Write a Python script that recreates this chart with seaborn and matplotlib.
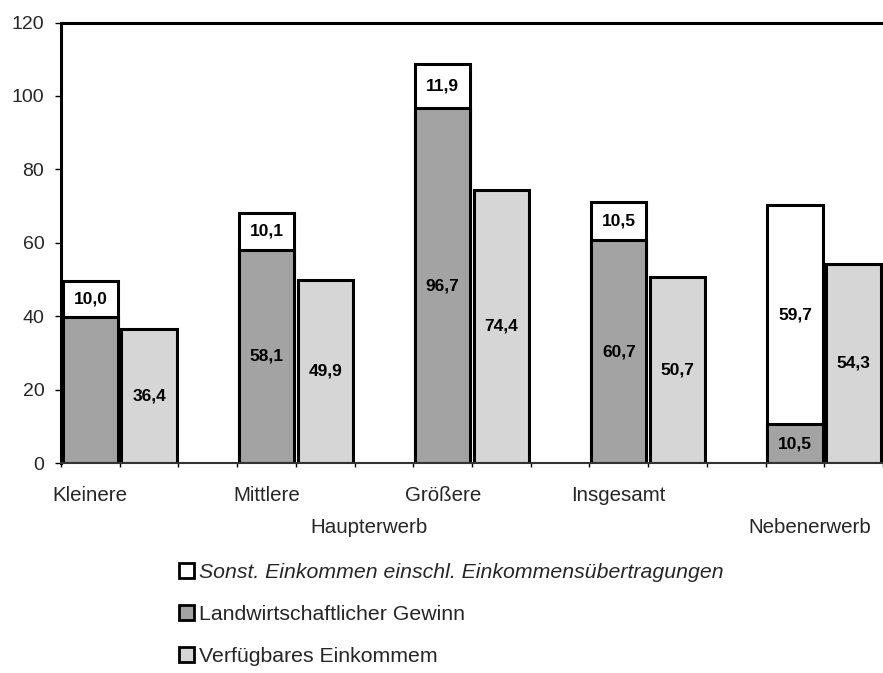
import matplotlib
matplotlib.use("Agg")
import matplotlib.pyplot as plt
from matplotlib.patches import Patch
import seaborn as sns
import pandas as pd

# ---- data ----
groups = ["Kleinere", "Mittlere", "Größere", "Insgesamt", "Nebenerwerb"]
gewinn = [39.7, 58.1, 96.7, 60.7, 10.5]          # Landwirtschaftlicher Gewinn
sonst = [10.0, 10.1, 11.9, 10.5, 59.7]           # Sonst. Einkommen einschl. Einkommensübertragungen
verfuegbar = [36.4, 49.9, 74.4, 50.7, 54.3]      # Verfügbares Einkommem
gewinn_labels = ["", "58,1", "96,7", "60,7", "10,5"]
sonst_labels = ["10,0", "10,1", "11,9", "10,5", "59,7"]
verf_labels = ["36,4", "49,9", "74,4", "50,7", "54,3"]
cat_labels = ["Kleinere", "Mittlere", "Größere", "Insgesamt", ""]
legend_labels = ["Sonst. Einkommen einschl. Einkommensübertragungen",
                 "Landwirtschaftlicher Gewinn",
                 "Verfügbares Einkommem"]

sns.set_theme(style="white")
plt.rcParams["font.family"] = ["Liberation Sans", "DejaVu Sans"]

C_SONST = "#ffffff"
C_GEWINN = "#a3a3a3"
C_VERF = "#d6d6d6"

slots = []
for g in groups:
    slots += [g + "|A", g + "|B", g + "|gap"]

df_total = pd.DataFrame({"slot": [g + "|A" for g in groups],
                         "value": [a + b for a, b in zip(gewinn, sonst)]})
df_gew = pd.DataFrame({"slot": [g + "|A" for g in groups], "value": gewinn})
df_verf = pd.DataFrame({"slot": [g + "|B" for g in groups], "value": verfuegbar})

SLOT_PX = 59.5
fig = plt.figure(figsize=(8.83, 6.73), dpi=100)
ax = fig.add_axes([61 / 883, 1 - 463 / 673, 1 - 61 / 883, (463 - 22.5) / 673])

kw = dict(x="slot", y="value", order=slots, errorbar=None, saturation=1,
          width=0.94, edgecolor="black", linewidth=2.2, ax=ax)
sns.barplot(data=df_total, color=C_SONST, **kw)
sns.barplot(data=df_gew, color=C_GEWINN, **kw)
sns.barplot(data=df_verf, color=C_VERF, **kw)

# value labels
for i, g in enumerate(groups):
    xa = slots.index(g + "|A")
    xb = slots.index(g + "|B")
    if gewinn_labels[i]:
        ax.text(xa, gewinn[i] / 2, gewinn_labels[i], ha="center", va="center",
                fontsize=12.5, fontweight="bold", color="black")
    ax.text(xa, gewinn[i] + sonst[i] / 2, sonst_labels[i], ha="center", va="center",
            fontsize=12.5, fontweight="bold", color="black")
    ax.text(xb, verfuegbar[i] / 2, verf_labels[i], ha="center", va="center",
            fontsize=12.5, fontweight="bold", color="black")

ax.set_xlim(-0.5, -0.5 + 822 / SLOT_PX)
ax.set_ylim(0, 120)
ax.set_yticks(range(0, 121, 20))
ax.set_yticklabels([str(v) for v in range(0, 121, 20)], fontsize=14)
ax.set_xticks([i - 0.5 for i in range(len(slots))])
ax.set_xticklabels([])
ax.tick_params(axis="x", length=3, width=1, color="black", direction="out", bottom=True)
ax.tick_params(axis="y", length=4, width=1, color="black", direction="out", left=True, pad=8)
ax.set_xlabel("")
ax.set_ylabel("")

for s in ["top", "left"]:
    ax.spines[s].set_visible(True)
    ax.spines[s].set_color("black")
    ax.spines[s].set_linewidth(2.2)
ax.spines["right"].set_visible(False)
ax.spines["bottom"].set_color("#333333")
ax.spines["bottom"].set_linewidth(1.5)
ax.spines["bottom"].set_linestyle((0, (2, 1)))

xt = ax.get_xaxis_transform()
for i, g in enumerate(groups):
    if cat_labels[i]:
        ax.text(slots.index(g + "|A"), -0.074, cat_labels[i], transform=xt,
                ha="center", va="center", fontsize=14.8, clip_on=False)
ax.text((373 - 61) / SLOT_PX - 0.5, -0.146, "Haupterwerb", transform=xt, ha="center",
        va="center", fontsize=14.8, clip_on=False)
ax.text((882 - 61) / SLOT_PX - 0.5, -0.146, "Nebenerwerb", transform=xt, ha="right",
        va="center", fontsize=14.8, clip_on=False)

handles = [Patch(facecolor=C_SONST, edgecolor="black", linewidth=2),
           Patch(facecolor=C_GEWINN, edgecolor="black", linewidth=2),
           Patch(facecolor=C_VERF, edgecolor="black", linewidth=2)]
leg = fig.legend(handles, legend_labels, loc="upper left",
                 bbox_to_anchor=(179 / 883, 1 - 563 / 673), frameon=False,
                 fontsize=15.3, labelspacing=1.08, handlelength=0.72, handleheight=0.72,
                 handletextpad=0.2, borderpad=0, borderaxespad=0)
leg.get_texts()[0].set_style("italic")

fig.savefig("out.png", dpi=100)
